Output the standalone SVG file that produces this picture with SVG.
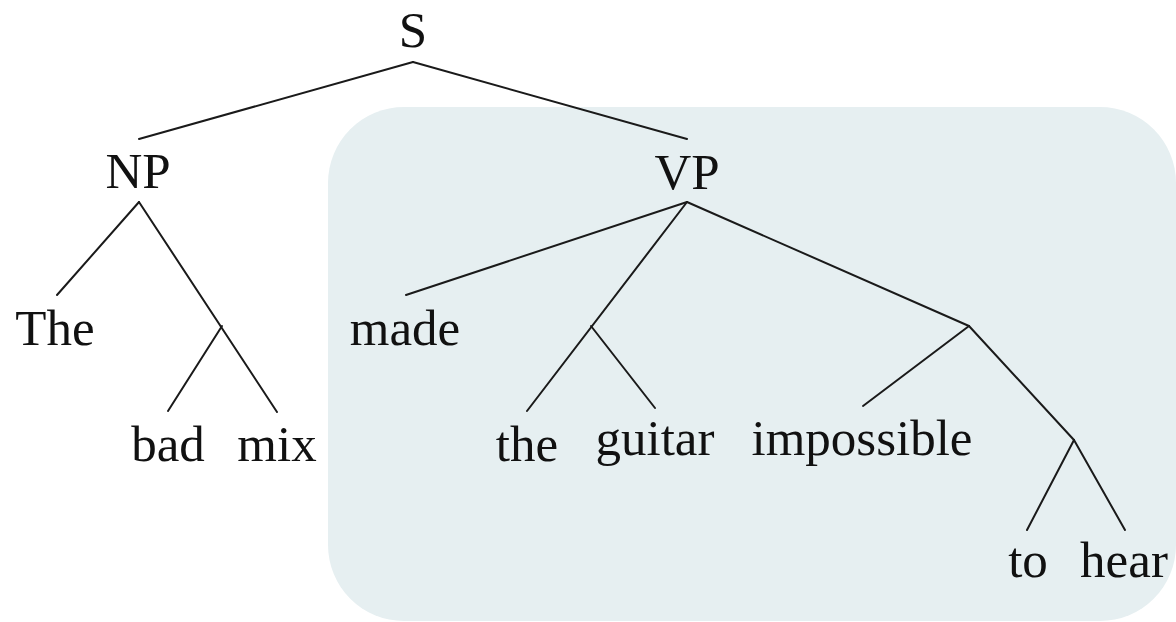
<svg xmlns="http://www.w3.org/2000/svg" width="1176" height="622" viewBox="0 0 1176 622">
<style>
text{font-family:"Liberation Serif","DejaVu Serif",serif;font-size:51px;fill:#111;text-anchor:middle}
.e{stroke:#1a1a1a;stroke-width:2;fill:none;stroke-linecap:round}
</style>
<rect width="1176" height="622" fill="#fff"/>
<rect id="highlight" x="328" y="107" width="848" height="514" rx="76" ry="76" fill="#e6eff1"/>
<g id="connectors" class="e">
<line x1="413" y1="62" x2="139" y2="139"/>
<line x1="413" y1="62" x2="687" y2="139"/>
<line x1="139" y1="202" x2="57" y2="295"/>
<line x1="139" y1="202" x2="277" y2="412"/>
<line x1="222" y1="326" x2="168" y2="411"/>
<line x1="687" y1="202" x2="406" y2="295"/>
<line x1="687" y1="202" x2="527" y2="411"/>
<line x1="591" y1="326" x2="655" y2="408"/>
<line x1="687" y1="202" x2="969" y2="326"/>
<line x1="969" y1="326" x2="863" y2="406"/>
<line x1="969" y1="326" x2="1074" y2="440"/>
<line x1="1074" y1="440" x2="1027" y2="530"/>
<line x1="1074" y1="440" x2="1125" y2="530"/>
</g>
<g id="S"><text x="413" y="47">S</text></g>
<g id="NP"><text x="138" y="188">NP</text></g>
<g id="VP"><text x="687" y="189">VP</text></g>
<g id="The"><text x="55" y="345">The</text></g>
<g id="bad"><text x="168" y="461">bad</text></g>
<g id="mix"><text x="277" y="461">mix</text></g>
<g id="made"><text x="405" y="345">made</text></g>
<g id="the"><text x="527" y="461">the</text></g>
<g id="guitar"><text x="655" y="455">guitar</text></g>
<g id="impossible"><text x="862" y="455">impossible</text></g>
<g id="to"><text x="1028" y="577">to</text></g>
<g id="hear"><text x="1124" y="577">hear</text></g>
</svg>
